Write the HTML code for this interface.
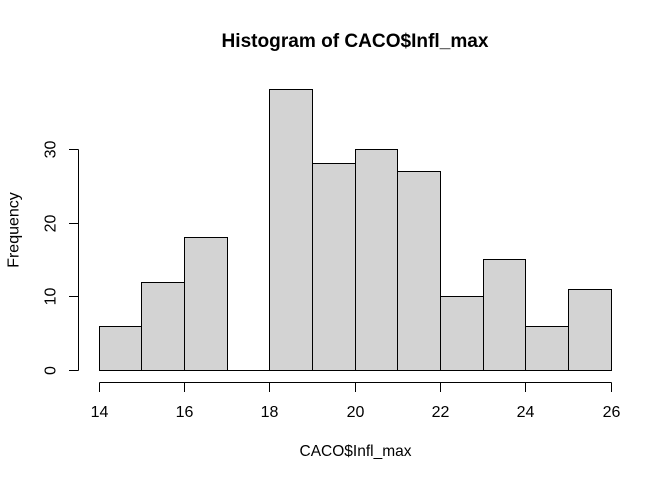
<!DOCTYPE html>
<html>
<head>
<meta charset="utf-8">
<style>
html,body{margin:0;padding:0;background:#fff;width:672px;height:480px;overflow:hidden}
svg{display:block}
text{font-family:"Liberation Sans",Arial,sans-serif;fill:#000}
</style>
</head>
<body>
<svg id="chart" xmlns="http://www.w3.org/2000/svg" width="672" height="480" viewBox="0 0 672 480"></svg>
<script>
const binEdges = [14, 15, 16, 17, 18, 19, 20, 21, 22, 23, 24, 25, 26];
const frequencies = [6, 12, 18, 0, 38, 28, 30, 27, 10, 15, 6, 11];
const xTicks = [14, 16, 18, 20, 22, 24, 26];
const yTicks = [0, 10, 20, 30];
const titleText = 'Histogram of CACO$Infl_max';
const xLabelText = 'CACO$Infl_max';
const yLabelText = 'Frequency';

const svg = document.getElementById('chart');
const NS = 'http://www.w3.org/2000/svg';
function xPos(v) { return Math.floor(99.17 + (v - 14) * (512 / 12)) + 0.5; }
function yPos(v) { return Math.floor(370.8 - v * 7.39) + 0.5; }
function make(tag, attrs) {
  const el = document.createElementNS(NS, tag);
  for (const k in attrs) el.setAttribute(k, attrs[k]);
  svg.appendChild(el);
  return el;
}
function stroke(el) {
  el.setAttribute('stroke', '#000');
  el.setAttribute('stroke-width', '1');
  return el;
}

frequencies.forEach(function (f, i) {
  const x0 = xPos(binEdges[i]), x1 = xPos(binEdges[i + 1]), y = yPos(f), y0 = yPos(0);
  const d = 'M' + x0 + ' ' + y0 + 'L' + x0 + ' ' + y + 'L' + x1 + ' ' + y + 'L' + x1 + ' ' + y0 + 'Z';
  const bar = stroke(make('path', { d: d, fill: '#d3d3d3' }));
  
  
});

const xAxis = stroke(make('line', { x1: xPos(xTicks[0]), x2: xPos(xTicks[xTicks.length - 1]), y1: 382.5, y2: 382.5 }));


xTicks.forEach(function (t) {
  const tick = stroke(make('line', { x1: xPos(t), x2: xPos(t), y1: 382.5, y2: 392 }));
  
  
  const label = make('text', { x: xPos(t), y: 417, 'text-anchor': 'middle', 'font-size': 16 });
  label.textContent = t;
  
  
});

const yAxis = stroke(make('line', { x1: 78.5, x2: 78.5, y1: yPos(yTicks[0]), y2: yPos(yTicks[yTicks.length - 1]) }));


yTicks.forEach(function (t) {
  const tick = stroke(make('line', { x1: 69, x2: 78.5, y1: yPos(t), y2: yPos(t) }));
  
  
  const label = make('text', { x: 55.5, y: yPos(t), transform: 'rotate(-90 55.5 ' + yPos(t) + ')', 'text-anchor': 'middle', 'font-size': 16 });
  label.textContent = t;
  
  
});

const title = make('text', { x: 355, y: 47, 'text-anchor': 'middle', 'font-size': 19.2, 'font-weight': 'bold', textLength: 267, lengthAdjust: 'spacingAndGlyphs' });
title.textContent = titleText;



const xLabel = make('text', { x: 355.5, y: 456, 'text-anchor': 'middle', 'font-size': 16, textLength: 112, lengthAdjust: 'spacingAndGlyphs' });
xLabel.textContent = xLabelText;



const yLabel = make('text', { x: 18.5, y: 230, transform: 'rotate(-90 18.5 230)', 'text-anchor': 'middle', 'font-size': 16 });
yLabel.textContent = yLabelText;


</script>
</body>
</html>
